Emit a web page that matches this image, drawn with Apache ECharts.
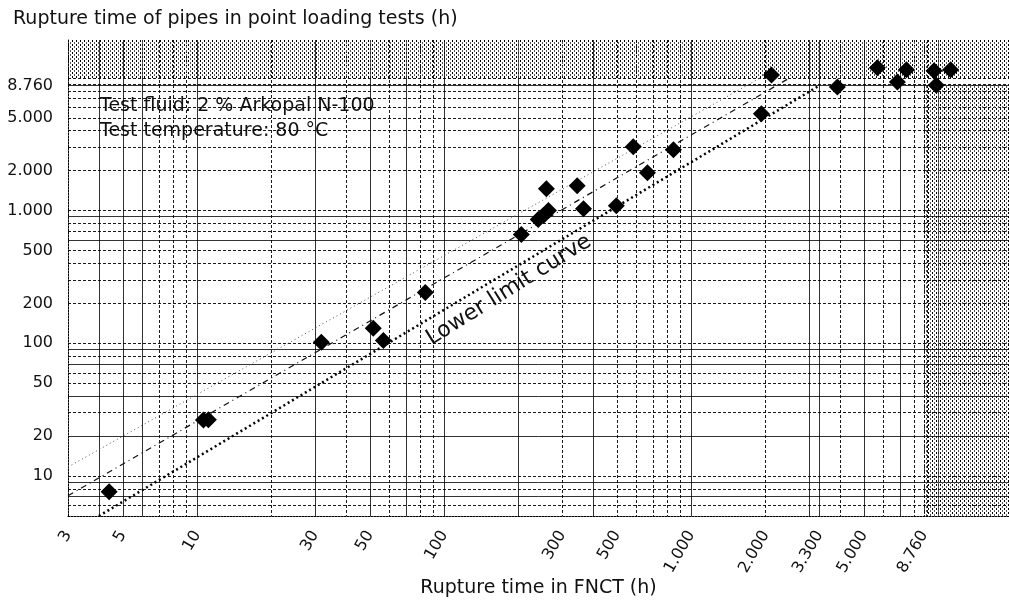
<!DOCTYPE html>
<html>
<head>
<meta charset="utf-8">
<script src="https://cdn.jsdelivr.net/npm/echarts@6/dist/echarts.min.js"></script>
<style>
  html, body { margin: 0; padding: 0; background: #fff; }
  #main { width: 1009px; height: 604px; }
</style>
</head>
<body>
<div id="main"></div>
<script>
// FNCT (x) and point loading (y) rupture times in hours
var fnctHours = [4.4, 10.6, 11.1, 31.8, 51.6, 56.7, 83.8, 205, 240, 252, 264, 259, 345, 366, 497, 582, 664, 846,
    1920, 2110, 3900, 5660, 6820, 7420, 9600, 9800, 11200];
var pointLoadHours = [7.6, 26.4, 26.6, 102, 130, 105, 242, 660, 856, 920, 1000, 1460, 1540, 1035, 1090, 3030, 1930, 2880,
    5360, 10500, 8550, 11900, 9330, 11500, 11300, 8800, 11500];

// three straight lines in the log-log plot (end points)
var upperLine = [[3, 11.7], [1900, 10000]];
var middleLine = [[3, 7.1], [2500, 10000]];
var lowerLimit = [[4, 5], [3300, 8760]];

// tick labels (German number format)
var xTickValues = [3, 5, 10, 30, 50, 100, 300, 500, 1000, 2000, 3300, 5000, 8760];
var xTickLabels = ['3', '5', '10', '30', '50', '100', '300', '500', '1.000', '2.000', '3.300', '5.000', '8.760'];
var yTickValues = [10, 20, 50, 100, 200, 500, 1000, 2000, 5000, 8760];
var yTickLabels = ['10', '20', '50', '100', '200', '500', '1.000', '2.000', '5.000', '8.760'];

// grid lines, solid and dashed
var xGridSolid = [4, 5, 6, 10, 30, 50, 70, 100, 200, 400, 1000, 3000, 3300, 5000, 7000, 10000];
var xGridDashed = [7, 8, 9, 20, 40, 60, 80, 90, 300, 500, 600, 700, 800, 900, 2000, 4000, 6000, 8000, 8760, 9000];
var yGridSolid = [7, 9, 20, 40, 70, 90, 600, 900, 8760];
var yGridDashed = [6, 8, 10, 30, 50, 60, 80, 100, 200, 300, 400, 500, 700, 800, 1000, 2000, 3000, 4000, 5000, 6000, 7000, 8000, 9000, 10000];

var xMin = 3, xMax = 19300, yMin = 5, yMax = 19300;
var shadeX = 8760, shadeY = 10000;

var myChart = echarts.init(document.getElementById('main'));

// stipple pattern for the shaded zones
var pat = document.createElement('canvas');
pat.width = 4; pat.height = 4;
var pctx = pat.getContext('2d');
pctx.fillStyle = '#000';
pctx.fillRect(0, 0, 1, 1);
pctx.fillRect(0, 1, 1, 1);
pctx.fillStyle = '#555';
pctx.fillRect(2, 2, 1, 1);
pctx.fillRect(2, 3, 1, 1);

var font = 'DejaVu Sans, Verdana, sans-serif';
var lg = function (v) { return Math.log10(v); };

function labelFor(vals, labels) {
    return function (v) {
        for (var i = 0; i < vals.length; i++) {
            if (Math.abs(lg(vals[i]) - v) < 1e-6) return labels[i];
        }
        return '';
    };
}

var points = fnctHours.map(function (x, i) { return [x, pointLoadHours[i]]; });

var helperX = function (vals, dashed, withLabels) {
    return {
        type: 'value', gridIndex: 0, min: lg(xMin), max: lg(xMax), position: 'bottom',
        axisLine: { show: false },
        axisTick: { show: false, customValues: vals.map(lg) },
        splitLine: { show: true, lineStyle: { color: '#000', width: 1, type: dashed ? [3, 2] : 'solid', opacity: dashed ? 0.9 : 0.8 } },
        axisLabel: withLabels ? {
            show: true, customValues: xTickValues.map(lg), rotate: 60, margin: 16,
            formatter: labelFor(xTickValues, xTickLabels),
            fontFamily: font, fontSize: 16, color: '#111'
        } : { show: false }
    };
};
var helperY = function (vals, dashed, withLabels) {
    return {
        type: 'value', gridIndex: 0, min: lg(yMin), max: lg(yMax), position: 'left',
        axisLine: { show: false },
        axisTick: { show: false, customValues: vals.map(lg) },
        splitLine: { show: true, lineStyle: { color: '#000', width: 1, type: dashed ? [3, 2] : 'solid', opacity: dashed ? 0.9 : 0.8 } },
        axisLabel: withLabels ? {
            show: true, customValues: yTickValues.map(lg), margin: 15,
            formatter: labelFor(yTickValues, yTickLabels),
            fontFamily: font, fontSize: 16, color: '#111'
        } : { show: false }
    };
};

var option = {
    backgroundColor: '#fff',
    animation: false,
    title: {
        text: 'Rupture time of pipes in point loading tests (h)',
        left: 8, top: 5,
        textStyle: { fontFamily: font, fontSize: 19, fontWeight: 'normal', color: '#111' }
    },
    grid: { left: 68, right: 0, top: 40, bottom: 88, containLabel: false, outerBoundsMode: 'none' },
    xAxis: [
        {
            type: 'log', min: xMin, max: xMax, position: 'bottom',
            name: 'Rupture time in FNCT (h)', nameLocation: 'middle', nameGap: 63,
            nameTextStyle: { fontFamily: font, fontSize: 19, color: '#111' },
            axisLine: { show: true, lineStyle: { color: '#000', type: [2, 1] } },
            axisTick: { show: false }, axisLabel: { show: false }, splitLine: { show: false }
        },
        helperX(xGridSolid, false, true),
        helperX(xGridDashed, true, false)
    ],
    yAxis: [
        {
            type: 'log', min: yMin, max: yMax, position: 'left',
            axisLine: { show: true, lineStyle: { color: '#000', type: [2, 1] } },
            axisTick: { show: false }, axisLabel: { show: false }, splitLine: { show: false }
        },
        helperY(yGridSolid, false, true),
        helperY(yGridDashed, true, false)
    ],
    series: [
        {
            type: 'line', xAxisIndex: 0, yAxisIndex: 0, data: [], silent: true,
            markArea: {
                silent: true,
                itemStyle: { color: { image: pat, repeat: 'repeat' }, opacity: 1 },
                data: [
                    [{ xAxis: xMin, yAxis: shadeY }, { xAxis: xMax, yAxis: yMax }],
                    [{ xAxis: shadeX, yAxis: yMin }, { xAxis: xMax, yAxis: shadeX }]
                ]
            }
        },
        {
            name: 'upper', type: 'line', data: upperLine, showSymbol: false, symbol: 'none',
            lineStyle: { color: '#555', width: 1, type: [1, 3] }, z: 3
        },
        {
            name: 'middle', type: 'line', data: middleLine, showSymbol: false, symbol: 'none',
            lineStyle: { color: '#111', width: 1.2, type: [6, 4, 1, 4] }, z: 3
        },
        {
            name: 'lower', type: 'line', data: lowerLimit, showSymbol: false, symbol: 'none',
            lineStyle: { color: '#000', width: 2.5, type: [2, 3] }, z: 3
        },
        {
            type: 'scatter', data: points, symbol: 'diamond', symbolSize: 17,
            itemStyle: { color: '#000', opacity: 1 }, z: 5
        }
    ],
    graphic: [
        {
            type: 'text', left: 100, top: 97,
            style: { text: 'Test fluid: 2 % Arkopal N-100', font: '19px ' + font, fill: '#111', backgroundColor: '#fff' }
        },
        {
            type: 'text', left: 100, top: 122,
            style: { text: 'Test temperature: 80 °C', font: '19px ' + font, fill: '#111', backgroundColor: '#fff' }
        },
        {
            type: 'text', x: 509, y: 290, rotation: 32 * Math.PI / 180,
            style: { text: 'Lower limit curve', font: '22px ' + font, fill: '#111', align: 'center', verticalAlign: 'middle' }
        }
    ]
};
myChart.setOption(option);
</script>
</body>
</html>
